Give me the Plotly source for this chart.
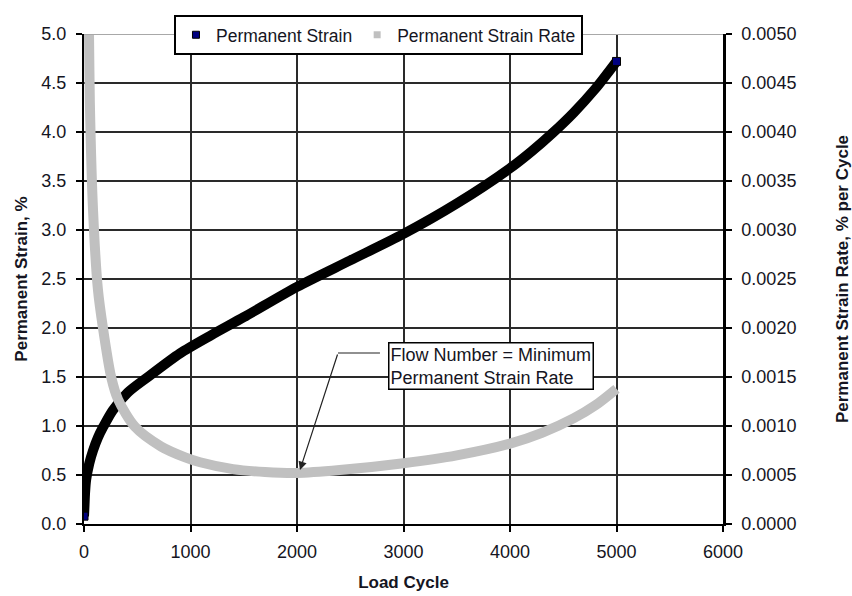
import plotly.graph_objects as go

# ---- data ----
cycles_strain = [0, 5, 10, 20, 50, 85, 130, 180, 270, 410, 600, 900, 1200, 1500,
                 2000, 2500, 3000, 3500, 4000, 4200, 4400, 4600, 4800, 5000]
strain = [0.08, 0.20, 0.32, 0.45, 0.62, 0.75, 0.88, 0.99, 1.16, 1.34, 1.50, 1.74,
          1.93, 2.11, 2.42, 2.69, 2.96, 3.27, 3.63, 3.80, 3.99, 4.20, 4.44, 4.72]

cycles_rate = [30, 47, 55, 85, 130, 178, 255, 320, 480, 725, 950, 1090, 1400, 1700,
               2000, 2400, 3000, 3500, 4000, 4300, 4600, 4800, 5000]
rate = [0.0060, 0.0050, 0.0043, 0.0032, 0.0024, 0.0020, 0.0015, 0.00127, 0.00099,
        0.00079, 0.00068, 0.00063, 0.00056, 0.00053, 0.00052, 0.00055, 0.00062,
        0.00070, 0.00082, 0.00093, 0.00108, 0.00121, 0.00138]

x_ticks = [0, 1000, 2000, 3000, 4000, 5000, 6000]
y_ticks = [0.0, 0.5, 1.0, 1.5, 2.0, 2.5, 3.0, 3.5, 4.0, 4.5, 5.0]
y2_ticks = [0.0, 0.0005, 0.0010, 0.0015, 0.0020, 0.0025, 0.0030, 0.0035, 0.0040, 0.0045, 0.0050]

flow_number_cycle = 2028
flow_number_rate_pct = 0.551  # on left-axis scale (x1000)

FONT = "Arial, Liberation Sans, sans-serif"
TXT = "#151522"

fig = go.Figure()

fig.add_trace(go.Scatter(
    x=cycles_strain, y=strain, mode="lines", name="Permanent Strain",
    line=dict(color="black", width=10, shape="spline", smoothing=0.8),
    showlegend=False, yaxis="y"))

# navy markers at first and last strain points
fig.add_trace(go.Scatter(
    x=[cycles_strain[0], cycles_strain[-1]], y=[strain[0], strain[-1]],
    mode="markers", marker=dict(symbol="square", size=8, color="#000080",
                                line=dict(color="black", width=1)),
    showlegend=False, hoverinfo="skip", yaxis="y"))

fig.add_trace(go.Scatter(
    x=cycles_rate, y=rate, mode="lines", name="Permanent Strain Rate",
    line=dict(color="#c0c0c0", width=10, shape="spline", smoothing=0.8),
    showlegend=False, yaxis="y2"))

# legend entries (square symbols like the original)
fig.add_trace(go.Scatter(
    x=[None], y=[None], mode="markers", name="Permanent Strain",
    marker=dict(symbol="square", size=7, color="#000080", line=dict(color="black", width=1))))
fig.add_trace(go.Scatter(
    x=[None], y=[None], mode="markers", name="Permanent Strain Rate",
    marker=dict(symbol="square", size=7, color="#c0c0c0")))

# top boundary in grey
fig.add_shape(type="line", xref="x", yref="y", x0=0, x1=6000, y0=5.0, y1=5.0,
              line=dict(color="#a8a8a8", width=2), layer="above")

# elbow of the arrow (horizontal segment)
fig.add_shape(type="line", xref="x", yref="y", x0=2385, x1=2779, y0=1.745, y1=1.745,
              line=dict(color="#222", width=1.2), layer="above")

# arrow
fig.add_annotation(x=flow_number_cycle, y=flow_number_rate_pct, xref="x", yref="y",
                   ax=2385, ay=1.745, axref="x", ayref="y", text="",
                   showarrow=True, arrowhead=2, arrowsize=1.4, arrowwidth=1.2,
                   arrowcolor="#222")

# annotation box
fig.add_annotation(x=2854, y=1.612, xref="x", yref="y", xanchor="left", yanchor="middle",
                   text="Flow Number = Minimum<br>Permanent Strain Rate",
                   showarrow=False, align="left",
                   font=dict(family=FONT, size=18, color=TXT),
                   bgcolor="white", bordercolor="black", borderwidth=1.5, borderpad=1)

fig.update_layout(
    width=852, height=596,
    margin=dict(l=84, r=129, t=34, b=72, autoexpand=False),
    paper_bgcolor="white", plot_bgcolor="white",
    font=dict(family=FONT, size=18, color=TXT),
    legend=dict(orientation="h", x=0.1408, y=1.039, xanchor="left", yanchor="top",
                bgcolor="white", bordercolor="black", borderwidth=2,
                font=dict(size=17.5), itemwidth=30, tracegroupgap=0),
    xaxis=dict(range=[0, 6000], tickvals=x_ticks, ticks="outside", ticklen=6,
               tickwidth=2, tickcolor="black", showline=True, linecolor="black",
               linewidth=2, showgrid=True, gridcolor="#2a2a2a", gridwidth=1.5,
               zeroline=False, ticklabelstandoff=4, automargin=False,
               title=dict(text="<b>Load Cycle</b>", font=dict(size=17), standoff=16)),
    yaxis=dict(range=[0, 5.0], tickvals=y_ticks, tickformat=".1f", ticks="outside",
               ticklen=6, tickwidth=2, tickcolor="black", showline=True,
               linecolor="black", linewidth=2, showgrid=True, gridcolor="#2a2a2a",
               gridwidth=1.5, zeroline=False, ticklabelstandoff=6, automargin=False,
               title=dict(text="<b>Permanent Strain, %</b>", font=dict(size=17), standoff=9)),
    yaxis2=dict(range=[0, 0.005], tickvals=y2_ticks, tickformat=".4f", overlaying="y",
                side="right", ticks="outside", ticklen=6, tickwidth=2, tickcolor="black",
                showline=True, linecolor="black", linewidth=2.5, showgrid=False,
                zeroline=False, ticklabelstandoff=6, automargin=False,
                title=dict(text="<b>Permanent Strain Rate, % per Cycle</b>",
                           font=dict(size=17), standoff=42)),
)

fig.write_html("out.html")
